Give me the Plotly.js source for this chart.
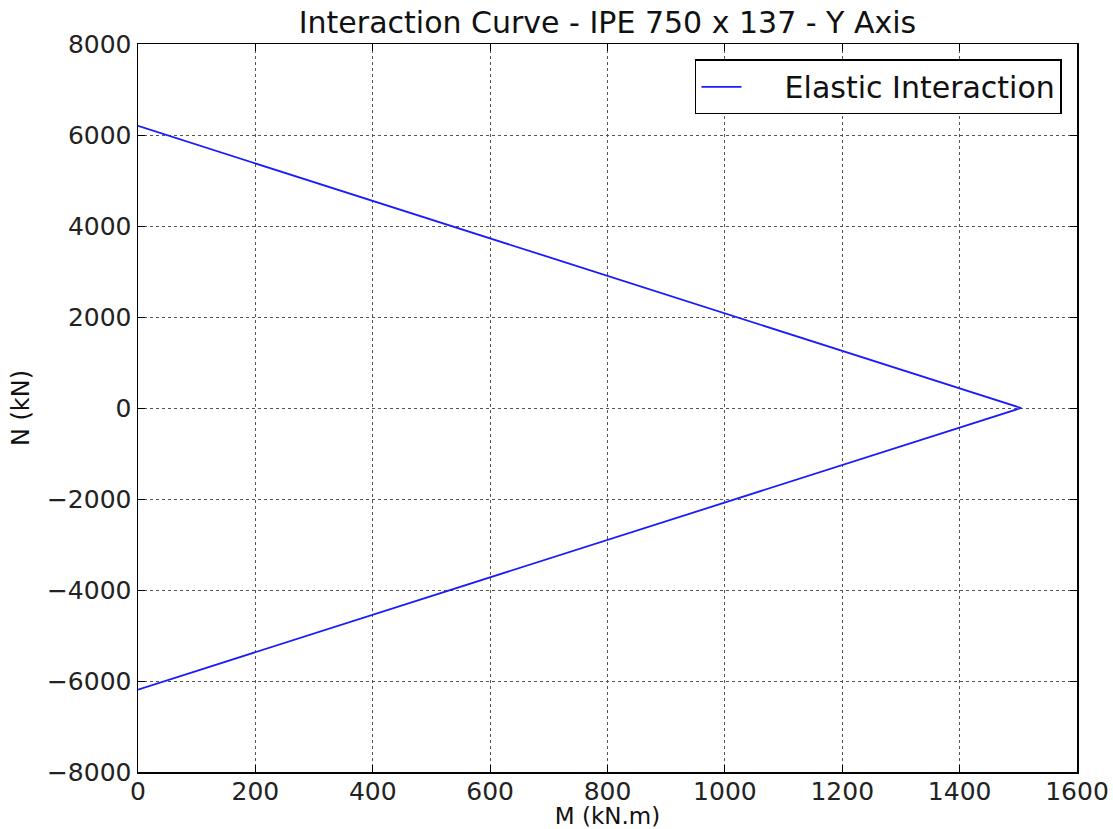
<!DOCTYPE html>
<html><head><meta charset="utf-8">
<script src="https://cdn.plot.ly/plotly-3.0.1.min.js"></script>
<style>html,body{margin:0;padding:0;background:#fff;}#chart{width:1113px;height:829px;}</style>
</head><body><div id="chart"></div>
<script>
const moment_kNm = [0, 1505, 0];
const axial_kN = [6200, 0, -6190];
const seriesName = 'Elastic Interaction';
const xTicks = [0, 200, 400, 600, 800, 1000, 1200, 1400, 1600];
const yTicks = [-8000, -6000, -4000, -2000, 0, 2000, 4000, 6000, 8000];
const yTickText = yTicks.map(v => v < 0 ? '\u2212' + Math.abs(v) : String(v));

const font = 'DejaVu Sans, sans-serif';
const axisCommon = {
  showline: true, linecolor: '#000', linewidth: 1.5, mirror: 'ticks',
  ticks: 'inside', ticklen: 7, tickcolor: '#000', tickwidth: 1,
  showgrid: true, gridcolor: '#555', griddash: 'dot', gridwidth: 1,
  zeroline: false, tickfont: {family: font, size: 25, color: '#222'}
};
Plotly.newPlot('chart', [{
  x: moment_kNm, y: axial_kN, type: 'scatter', mode: 'lines',
  name: '\u00a0\u00a0\u00a0\u00a0' + seriesName,
  line: {color: '#1a1aff', width: 1.8}
}], {
  width: 1113, height: 829,
  margin: {l: 138, r: 36, t: 44, b: 57},
  paper_bgcolor: '#fff', plot_bgcolor: '#fff',
  title: {text: 'Interaction Curve - IPE 750 x 137 - Y Axis', font: {family: font, size: 30, color: '#111'}, xref: 'paper', x: 0.5, xanchor: 'center', yref: 'container', y: 0.973, yanchor: 'middle'},
  xaxis: Object.assign({}, axisCommon, {range: [0, 1600], tickvals: xTicks, ticktext: xTicks.map(String), ticklabelstandoff: -4,
    title: {text: 'M (kN.m)', font: {family: font, size: 23, color: '#111'}, standoff: 0}}),
  yaxis: Object.assign({}, axisCommon, {range: [-8000, 8000], tickvals: yTicks, ticktext: yTickText,
    title: {text: 'N (kN)', font: {family: font, size: 24, color: '#111'}, standoff: 10}}),
  showlegend: true,
  legend: {x: 0.984, y: 0.979, xanchor: 'right', yanchor: 'top', bgcolor: '#fff', bordercolor: '#000', borderwidth: 1.5,
    font: {family: font, size: 30, color: '#111'}, itemwidth: 40}
}, {displayModeBar: false, staticPlot: true});
</script></body></html>
